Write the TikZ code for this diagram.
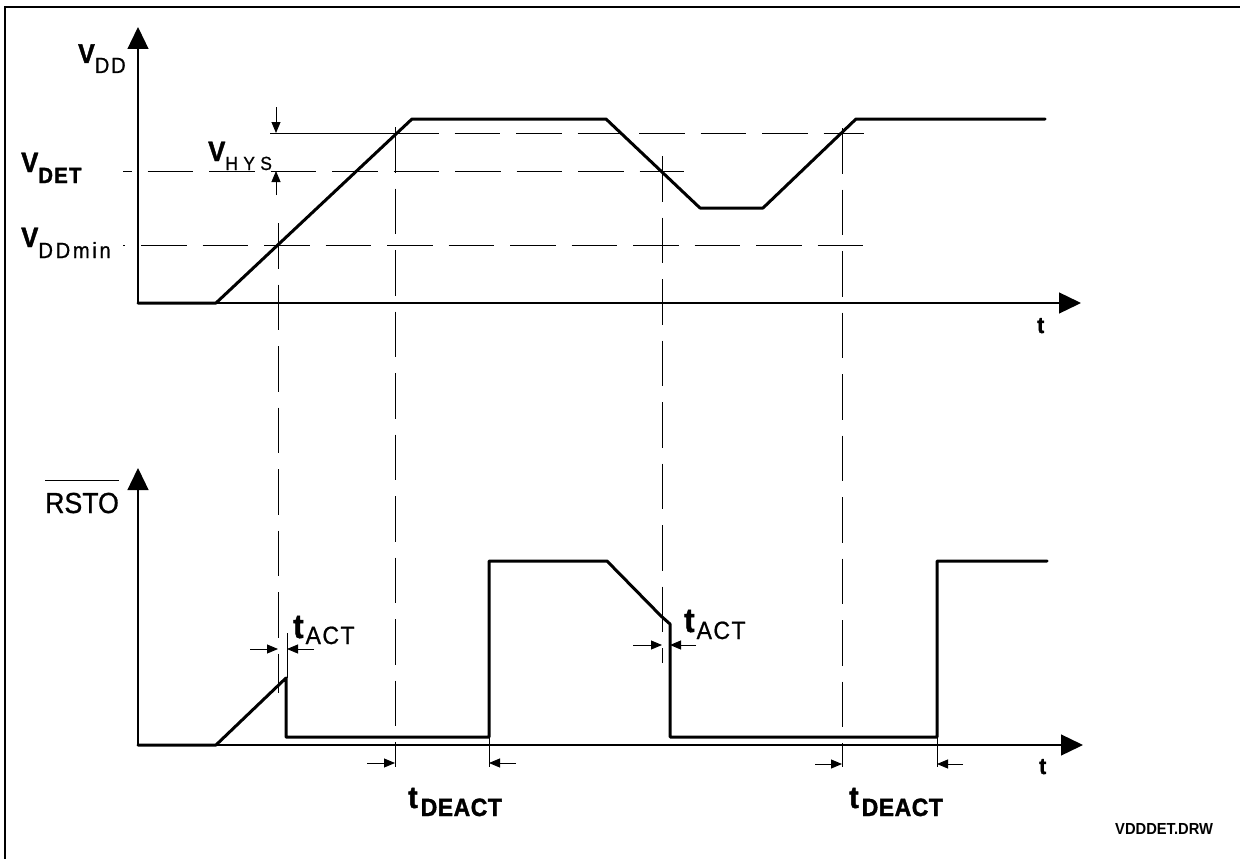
\documentclass[tikz,border=0pt]{standalone}
\usepackage{fontspec}
\setmainfont{Liberation Sans}[FakeStretch=0.92]
\usetikzlibrary{arrows.meta}
\newcommand\fsz[1]{\fontsize{#1}{#1}\selectfont}
\newcommand\lsp[1]{\addfontfeature{LetterSpace=#1}}
\newcommand\heavy{\addfontfeature{FakeBold=1.5}}
\newcommand\medium{\addfontfeature{FakeBold=0.8}}
\begin{document}
\begin{tikzpicture}[x=1pt,y=-1pt,
  sig/.style={line width=3pt, line join=round, line cap=round},
  axisline/.style={line width=1.3pt, -{Triangle[length=22pt,width=21pt]}},
  guide/.style={line width=0.9pt, dash pattern=on 45.5pt off 16pt},
  thin/.style={line width=0.9pt},
  dimarrow/.style={line width=0.9pt, -{Triangle[length=11pt,width=9pt]}},
  lbl/.style={inner sep=0pt, anchor=base west},
  frame/.style={line width=1.6pt}]
\useasboundingbox (0,0) rectangle (1240,859);

% frame
\coordinate (f1) at (5,870); \coordinate (f2) at (5,7); \coordinate (f3) at (1250,7);
\draw[frame] (f1) -- (f2) -- (f3);

% ---------- upper plot ----------
\coordinate (uo) at (138,303); \coordinate (uy) at (138,27); \coordinate (ux) at (1081,303);
\draw[axisline] (uo) -- (uy);
\draw[axisline] (uo) -- (ux);

% guides
\coordinate (det0) at (123,171); \coordinate (det1) at (684,171);
\draw[guide, dash phase=37pt] (det0) -- (det1);
\coordinate (min0) at (123,245); \coordinate (min1) at (864,245);
\draw[guide, dash phase=43.5pt] (min0) -- (min1);
\coordinate (hy0) at (270,133); \coordinate (hy1) at (410,133);
\coordinate (hy2) at (393,133); \coordinate (hy3) at (864,133);
\draw[thin] (hy0) -- (hy1);
\draw[guide] (hy2) -- (hy3);

% vertical guides
\coordinate (va0) at (278,223); \coordinate (va1) at (278,693);
\coordinate (vb0) at (395,127); \coordinate (vb1) at (395,767);
\coordinate (vc0) at (662,156); \coordinate (vc1) at (662,663);
\coordinate (vd0) at (842,128); \coordinate (vd1) at (842,767);
\draw[guide] (va0) -- (va1);
\draw[guide] (vb0) -- (vb1);
\draw[guide] (vc0) -- (vc1);
\draw[guide] (vd0) -- (vd1);

% VDD signal
\coordinate (u0) at (138,303); \coordinate (u1) at (216,303);
\coordinate (u2) at (412,119); \coordinate (u3) at (606,119);
\coordinate (u4) at (700,208); \coordinate (u5) at (763,208);
\coordinate (u6) at (856,119); \coordinate (u7) at (1045,119);
\draw[sig] (u0) -- (u1) -- (u2) -- (u3) -- (u4) -- (u5) -- (u6) -- (u7);

% hysteresis arrows
\coordinate (ha0) at (276,107); \coordinate (ha1) at (276,133);
\coordinate (hb0) at (276,195); \coordinate (hb1) at (276,171);
\draw[dimarrow] (ha0) -- (ha1);
\draw[dimarrow] (hb0) -- (hb1);

% labels upper
\node[lbl] (vdd) at (78,63) {\fsz{27}\bfseries\heavy V\raisebox{-10pt}{\fsz{22}\mdseries\medium\lsp{8}DD}};
\node[lbl] (vdet) at (21,172) {\fsz{28}\bfseries\heavy V\raisebox{-11pt}{\fsz{22}\bfseries\heavy\lsp{6}DET}};
\node[lbl] (vmin) at (21,247) {\fsz{28}\bfseries\heavy V\raisebox{-11pt}{\fsz{22}\mdseries\medium\lsp{12}DDmin}};
\node[lbl] (vhys) at (208,161) {\fsz{28}\bfseries\heavy V\raisebox{-9pt}{\fsz{19}\mdseries\medium\lsp{28}HYS}};
\node[lbl] (tu) at (1037,333) {\fsz{23}\bfseries\heavy t};

% ---------- lower plot ----------
\coordinate (lo) at (138,745); \coordinate (ly) at (138,468); \coordinate (lx) at (1083,745);
\draw[axisline] (lo) -- (ly);
\draw[axisline] (lo) -- (lx);

% RSTO signal
\coordinate (l0) at (138,745); \coordinate (l1) at (216,745);
\coordinate (l2) at (286,678); \coordinate (l3) at (286,737);
\coordinate (l4) at (489,737); \coordinate (l5) at (489,561);
\coordinate (l6) at (607,561); \coordinate (l7) at (661,616);
\coordinate (l8) at (670,624); \coordinate (l9) at (670,737);
\coordinate (l10) at (937,737); \coordinate (l11) at (937,561);
\coordinate (l12) at (1047,561);
\draw[sig] (l0) -- (l1) -- (l2) -- (l3) -- (l4) -- (l5) -- (l6) -- (l7) -- (l8) -- (l9) -- (l10) -- (l11) -- (l12);

% thin ticks
\coordinate (k0) at (287,633); \coordinate (k1) at (287,678);
\coordinate (k2) at (489,737); \coordinate (k3) at (489,767);
\coordinate (k4) at (937,737); \coordinate (k5) at (937,767);
\draw[thin] (k0) -- (k1);
\draw[thin] (k2) -- (k3);
\draw[thin] (k4) -- (k5);

% timing arrows
\coordinate (a1s) at (250,649); \coordinate (a1e) at (278,649);
\coordinate (a2s) at (314,649); \coordinate (a2e) at (287,649);
\coordinate (a3s) at (633,645); \coordinate (a3e) at (662,645);
\coordinate (a4s) at (696,645); \coordinate (a4e) at (670,645);
\coordinate (a5s) at (367,763); \coordinate (a5e) at (395,763);
\coordinate (a6s) at (516,763); \coordinate (a6e) at (489,763);
\coordinate (a7s) at (815,764); \coordinate (a7e) at (842,764);
\coordinate (a8s) at (963,764); \coordinate (a8e) at (937,764);
\foreach \i in {1,...,8} {\draw[dimarrow] (a\i s) -- (a\i e);}

% labels lower
\node[lbl] (rsto) at (45,513) {\fsz{29}\medium RSTO};
\draw[line width=1pt] ([yshift=12pt]rsto.north west) -- ([yshift=12pt]rsto.north east);
\node[lbl] (tact1) at (293,638) {\fsz{34}\bfseries\heavy t\hspace{2pt}\raisebox{-6pt}{\fsz{25}\mdseries\medium\lsp{6}ACT}};
\node[lbl] (tact2) at (684,632) {\fsz{34}\bfseries\heavy t\hspace{2pt}\raisebox{-7pt}{\fsz{25}\mdseries\medium\lsp{6}ACT}};
\node[lbl] (tde1) at (408,808) {\fsz{31}\bfseries\heavy t\hspace{3pt}\raisebox{-8pt}{\fsz{25}\bfseries\lsp{2}DEACT}};
\node[lbl] (tde2) at (849,808) {\fsz{31}\bfseries\heavy t\hspace{3pt}\raisebox{-8pt}{\fsz{25}\bfseries\lsp{2}DEACT}};
\node[lbl] (tl) at (1039,774) {\fsz{23}\bfseries\heavy t};
\node[lbl] (drw) at (1115,834) {\fsz{16}\bfseries VDDDET.DRW};
\end{tikzpicture}
\end{document}
